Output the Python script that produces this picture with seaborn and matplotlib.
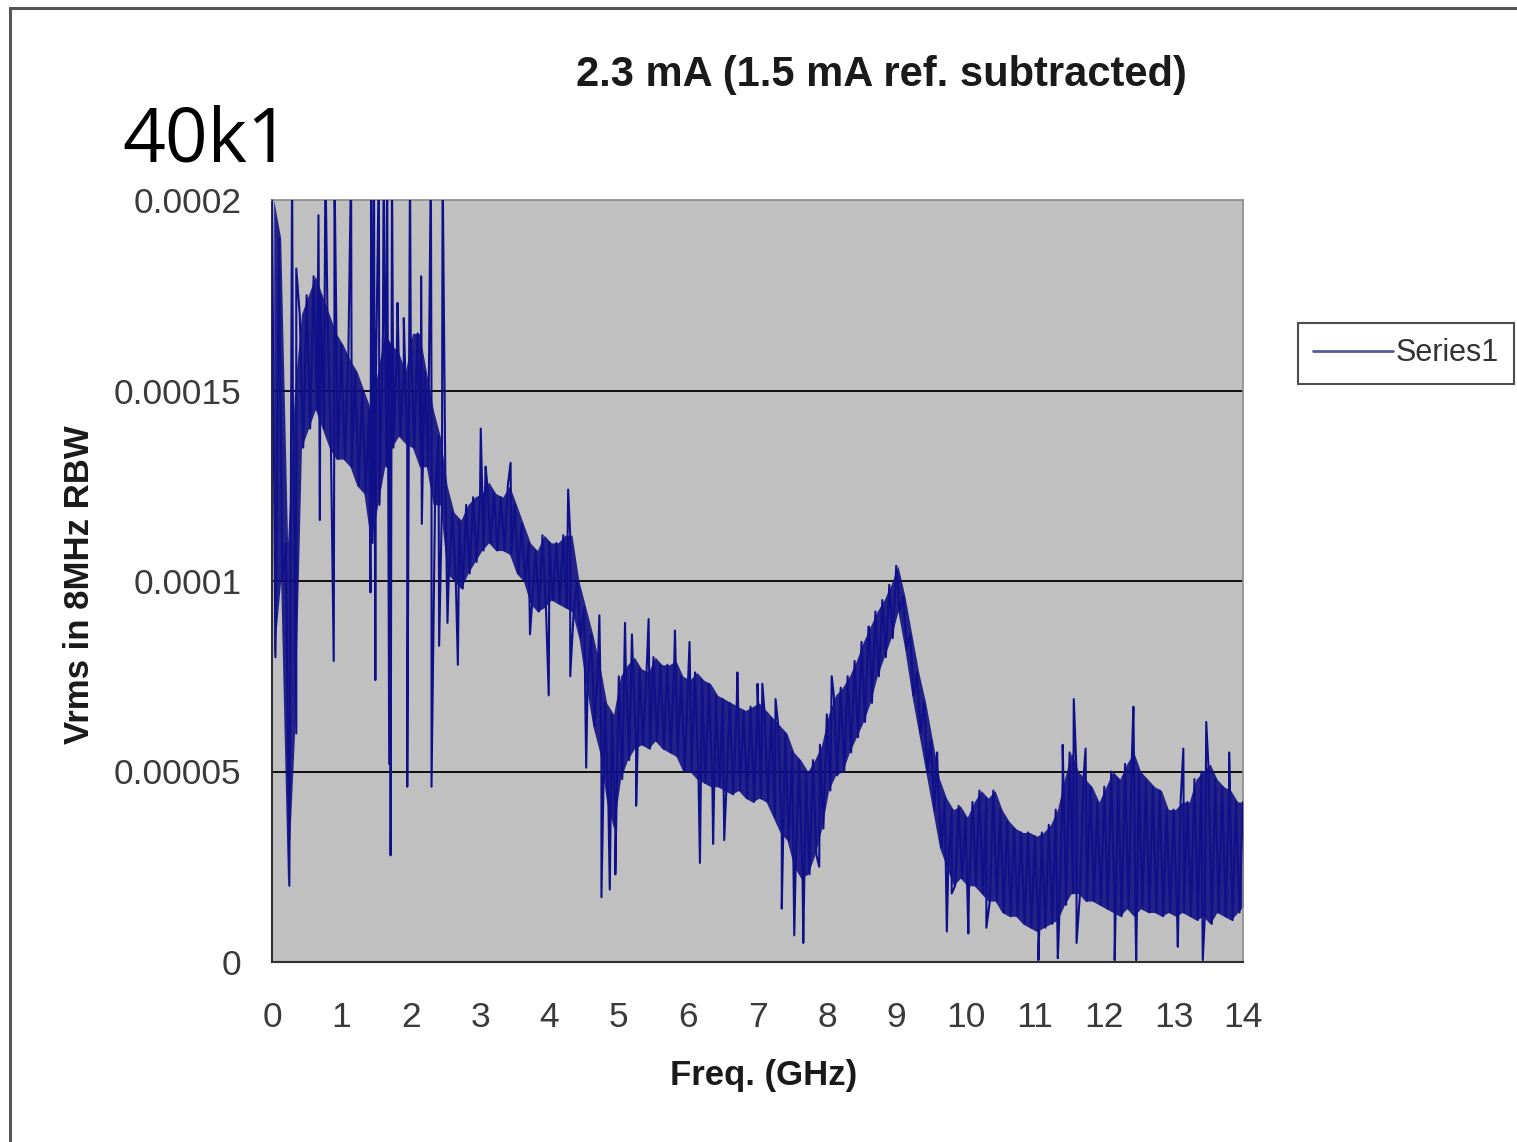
import numpy as np
import pandas as pd
import matplotlib
matplotlib.use("Agg")
import matplotlib.pyplot as plt
import seaborn as sns
from matplotlib.patches import Rectangle
from matplotlib.lines import Line2D

# ---------------- data (values in units of 1e-5 Vrms) ----------------
freq_ghz = [round(0.1 * i, 1) for i in range(141)]  # 0.0 .. 14.0 GHz

band_hi = [20, 19, 11, 15, 17, 17.5, 18, 17.5, 17, 16.5,
           16.2, 15.8, 15.5, 15, 14.5, 15.5, 16.5, 16.2, 16, 15.5,
           16.5, 16.5, 15.5, 14.5, 13.8, 12.5, 11.8, 11.6, 12, 12.2,
           12.3, 12.6, 12.3, 12.2, 12.5, 12, 11.5, 11, 10.8, 11.2,
           11, 11, 11.2, 11.2, 10, 9.3, 8.6, 7.8, 6.8, 6.5,
           7.5, 7.8, 8, 7.7, 7.6, 8.0, 7.8, 7.8, 7.9, 7.5,
           7.4, 7.6, 7.4, 7.3, 7.0, 6.9, 6.8, 6.7, 6.6, 6.7,
           6.8, 6.6, 6.4, 6.2, 6.0, 5.5, 5.3, 5.0, 5.3, 5.7,
           6.5, 7.0, 7.2, 7.5, 7.9, 8.4, 8.8, 9.2, 9.5, 9.9,
           10.4, 9.6, 8.6, 7.6, 6.8, 5.8, 4.8, 4.3, 4.0, 4.1,
           3.8, 4.2, 4.5, 4.3, 4.5, 4.0, 3.7, 3.5, 3.4, 3.4,
           3.3, 3.4, 3.6, 4.0, 4.8, 5.5, 5.0, 4.8, 4.6, 4.2,
           4.6, 5.0, 4.8, 5.2, 5.5, 5.0, 4.8, 4.6, 4.5, 4.0,
           4.0, 4.2, 4.2, 4.8, 5.0, 5.2, 4.8, 4.6, 4.5, 4.2,
           4.2]

band_lo = [8, 10, 2, 6, 13.5, 14, 14.5, 14, 13.5, 13.2,
           13.2, 13, 12.5, 12.3, 11, 12, 13, 13.5, 13.8, 13.6,
           13.5, 13, 13, 12, 12, 10.2, 10, 9.8, 10.2, 10.5,
           10.8, 11, 10.8, 10.8, 10.7, 10.2, 10, 9.4, 9.2, 9.3,
           9.5, 9.4, 9.3, 9.2, 8.5, 7.3, 6.2, 5.5, 4.2, 3.5,
           4.8, 5.3, 5.6, 5.7, 5.6, 5.8, 5.6, 5.5, 5.4, 5.0,
           5.0, 4.8, 4.7, 4.6, 4.6, 4.5, 4.4, 4.5, 4.3, 4.2,
           4.3, 4.2, 3.8, 3.4, 3.2, 2.5, 2.2, 2.3, 2.8, 3.5,
           4.5, 4.9, 5.0, 5.5, 5.9, 6.3, 6.8, 7.5, 8.0, 8.5,
           9.2, 8.2, 7.0, 6.0, 5.0, 4.0, 3.0, 2.5, 2.0, 2.2,
           2.0, 2.0, 1.8, 1.6, 1.6, 1.3, 1.2, 1.2, 1.0, 0.9,
           0.8, 0.9, 1.0, 1.1, 1.5, 1.8, 1.8, 1.6, 1.6, 1.5,
           1.4, 1.3, 1.2, 1.4, 1.2, 1.4, 1.3, 1.3, 1.2, 1.3,
           1.2, 1.3, 1.2, 1.1, 1.2, 1.0, 1.3, 1.2, 1.1, 1.3,
           1.5]

spike_freq = [0.29, 0.35, 0.67, 0.69, 0.77, 0.89, 0.90, 1.14, 1.42, 1.43,
              1.47, 1.49, 1.54, 1.61, 1.66, 1.69, 1.71, 1.73, 1.81, 1.90,
              1.95, 1.99, 2.15, 2.16, 2.29, 2.30, 2.41, 2.46, 2.53, 2.68,
              3.01, 3.08, 3.44, 3.72, 3.99, 4.27, 4.30, 4.53, 4.72, 4.75,
              4.87, 4.95, 5.09, 5.19, 5.25, 5.43, 5.81, 6.02, 6.17, 6.36,
              6.52, 6.71, 7.00, 7.07, 7.26, 7.35, 7.53, 7.66, 7.89, 8.07,
              8.61, 9.59, 9.73, 9.80, 10.04, 10.30, 11.05, 11.33, 11.40, 11.56,
              11.60, 11.73, 12.15, 12.42, 12.46, 13.06, 13.14, 13.42, 13.47, 13.80]
spike_val = [21, 18.2, 19.6, 11.6, 21, 7.9, 21, 21, 9.7, 21,
             21, 7.4, 21, 21, 21, 5.2, 2.8, 21, 17.3, 16.9,
             4.6, 21, 18, 11.5, 21, 4.6, 8.3, 21, 8.9, 7.8,
             14, 13, 13.1, 8.6, 7.0, 12.4, 7.5, 5.1, 9.1, 1.7,
             1.9, 2.3, 8.9, 8.6, 4.1, 9.0, 8.7, 8.4, 2.6, 3.1,
             3.2, 7.6, 7.3, 7.3, 6.9, 1.4, 0.7, 0.5, 2.5, 7.5,
             8.8, 5.5, 0.8, 1.8, 0.75, 0.9, 0.05, 0.1, 5.7, 6.9,
             0.5, 5.6, 0.05, 6.7, 0.05, 0.4, 5.6, 0.05, 6.3, 5.5]

y_ticks = [0, 0.00005, 0.0001, 0.00015, 0.0002]
y_tick_labels = ["0", "0.00005", "0.0001", "0.00015", "0.0002"]
x_ticks = list(range(15))

UNIT = 1e-5

# build the series table: band zig-zag plus isolated spikes
rows = []
for f, h, l in zip(freq_ghz, band_hi, band_lo):
    rows.append((f, h * UNIT))
    rows.append((f + 0.05, l * UNIT))
for f, v in zip(spike_freq, spike_val):
    rows.append((f, v * UNIT))
df = pd.DataFrame(rows, columns=["freq", "vrms"]).sort_values("freq", kind="mergesort")

# ---------------- figure ----------------
sns.set_theme(style="white")
plt.rcParams["font.family"] = ["Liberation Sans", "DejaVu Sans"]

W, H = 1517, 1142
fig = plt.figure(figsize=(W / 100, H / 100), dpi=100)
fig.patch.set_facecolor("white")

ax = fig.add_axes([272 / W, 1 - 962 / H, (1243 - 272) / W, (962 - 200) / H])
ax.set_facecolor("#C0C0C0")

navy = "#10108A"
ax.fill_between([f + 0.025 for f in freq_ghz],
                [v * UNIT for v in band_lo], [v * UNIT for v in band_hi],
                color="#0c0c82", alpha=0.88, lw=0, zorder=2)
sns.lineplot(data=df, x="freq", y="vrms", sort=False, estimator=None,
             color=navy, lw=1.5, ax=ax, zorder=3, legend=False)

ax.set_xlim(0, 14)
ax.set_ylim(0, 0.0002)
ax.set_xticks(x_ticks)
ax.set_xticklabels([str(t) for t in x_ticks])
ax.set_yticks(y_ticks)
ax.set_yticklabels(y_tick_labels)
for yv in y_ticks[1:-1]:
    ax.axhline(yv, color="black", lw=1.3, zorder=1)

ax.set_xlabel("")
ax.set_ylabel("")
for s in ["top", "right"]:
    ax.spines[s].set_color("#8C8C8C")
    ax.spines[s].set_linewidth(1.2)
for s in ["left", "bottom"]:
    ax.spines[s].set_color("#303030")
    ax.spines[s].set_linewidth(1.5)
ax.tick_params(axis="both", direction="out", length=7, width=1.5, color="#303030",
               labelsize=25.5, labelcolor="#3a3a3a")
ax.tick_params(axis="y", pad=15)
ax.tick_params(axis="x", pad=21)
ax.grid(False)

# texts
fig.text(881 / W, 1 - 75 / H, "2.3 mA (1.5 mA ref. subtracted)", ha="center", va="center",
         fontsize=30, fontweight="bold", color="#1a1a1a")
fig.text(122 / W, 1 - 142 / H, "40k1", ha="left", va="center", fontsize=54,
         family=["Open Sans", "DejaVu Sans"], color="black")
fig.text(764 / W, 1 - 1075 / H, "Freq. (GHz)", ha="center", va="center",
         fontsize=25, fontweight="bold", color="#1a1a1a")
fig.text(80 / W, 1 - 585 / H, "Vrms in 8MHz RBW", ha="center", va="center",
         rotation=90, fontsize=25, fontweight="bold", color="#1a1a1a")

# legend
handle = Line2D([], [], color="#5a5a9a", lw=2)
leg = fig.legend([handle], ["Series1"], loc="upper left",
                 bbox_to_anchor=(1298 / W, 1 - 323 / H), fontsize=22,
                 frameon=True, fancybox=False, edgecolor="#202020",
                 handlelength=2.6, handletextpad=0.1, borderpad=0.5,
                 borderaxespad=0)
leg.get_frame().set_linewidth(1.5)
for t in leg.get_texts():
    t.set_color("#333333")

# outer chart frame
fig.patches.append(Rectangle((10 / W, -0.05), 1.1, 1.05 - 8 / H, transform=fig.transFigure,
                             fill=False, edgecolor="#555555", lw=2.2))

fig.savefig("out.png", dpi=100)
